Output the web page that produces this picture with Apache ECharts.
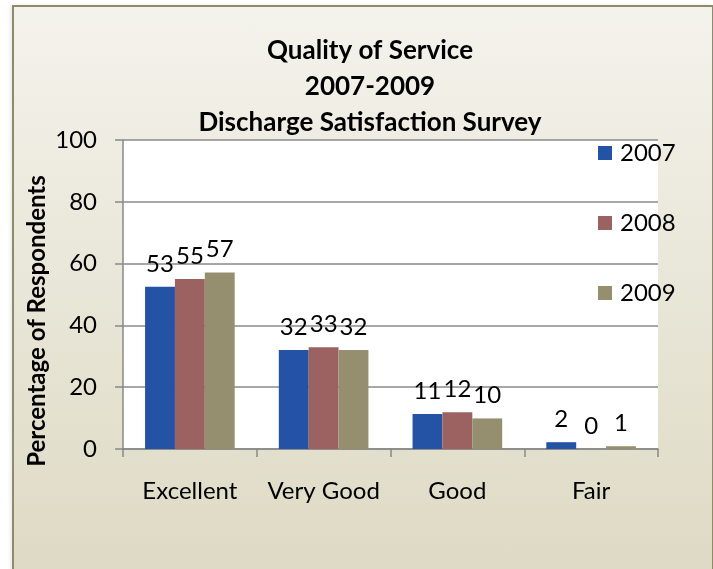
<!DOCTYPE html>
<html>
<head>
<meta charset="utf-8">
<script src="https://cdn.jsdelivr.net/npm/echarts@6/dist/echarts.min.js"></script>
<style>
  html, body { margin: 0; padding: 0; background: #fff; }
  #bg {
    position: absolute; left: 12px; top: 5px; width: 698px; height: 580px;
    border-left: 2px solid #8d8b6c; border-top: 2px solid #8d8b6c; border-right: 1px solid #8d8b6c;
    background: linear-gradient(to bottom, #f4f3ec 0%, #ddd9c3 100%);
    box-shadow: -2px 0 3px rgba(0,0,0,0.08);
  }
  #chart { position: absolute; left: 0; top: 0; width: 713px; height: 569px; }
</style>
</head>
<body>
<div id="bg"></div>
<div id="chart"></div>
<script>
'use strict';

// values
var categories = ['Excellent', 'Very Good', 'Good', 'Fair'];
var years = ['2007', '2008', '2009'];
var values2007 = [52.5, 32, 11.3, 2.2];
var values2008 = [55, 32.9, 11.9, 0];
var values2009 = [57.1, 32, 9.9, 0.9];
var yTicks = [0, 20, 40, 60, 80, 100];
var colors = ['#2452a5', '#9c6262', '#958f6f'];

var font = 'Lato';
var chart = echarts.init(document.getElementById('chart'), null, { renderer: 'canvas' });

function makeSeries(name, data, i) {
    return {
        name: name,
        type: 'bar',
        data: data,
        barGap: '0%',
        barCategoryGap: '33%',
        itemStyle: { color: colors[i] },
        label: {
            show: true,
            position: 'top',
            distance: 11,
            color: '#000',
            fontFamily: font,
            fontSize: 24,
            formatter: function (p) { return Math.round(p.value); }
        }
    };
}

var option = {
    animation: false,
    backgroundColor: 'transparent',
    title: {
        text: 'Quality of Service\n2007-2009\nDischarge Satisfaction Survey',
        left: 365,
        top: 28,
        textAlign: 'center',
        textStyle: {
            fontFamily: font,
            fontWeight: 'bold',
            fontSize: 26,
            lineHeight: 36,
            color: '#000'
        }
    },
    legend: {
        orient: 'vertical',
        left: 593,
        top: 136,
        itemWidth: 14,
        itemHeight: 14,
        itemGap: 46,
        icon: 'rect',
        data: years,
        textStyle: { fontFamily: font, fontSize: 24, color: '#000', padding: [0, 0, 0, 3] }
    },
    grid: { left: 123, top: 140, right: 55, bottom: 120, containLabel: false,
        show: true, backgroundColor: '#fff', borderWidth: 0 },
    xAxis: {
        type: 'category',
        data: categories,
        axisLine: { lineStyle: { color: '#888', width: 1.5 } },
        axisTick: { show: true, length: 8, alignWithLabel: false, lineStyle: { color: '#888', width: 1.5 } },
        axisLabel: { interval: 0, margin: 30, color: '#000', fontFamily: font, fontSize: 24 }
    },
    yAxis: {
        type: 'value',
        min: yTicks[0],
        max: yTicks[yTicks.length - 1],
        interval: 20,
        axisLine: { show: true, lineStyle: { color: '#888', width: 1.5 } },
        axisTick: { show: true, length: 8, lineStyle: { color: '#888', width: 1.5 } },
        splitLine: { lineStyle: { color: '#8a8a8a', width: 1.5 } },
        axisLabel: { margin: 26, color: '#000', fontFamily: font, fontSize: 24 }
    },
    graphic: [{
        type: 'text',
        x: 37,
        y: 321,
        rotation: Math.PI / 2,
        style: {
            text: 'Percentage of Respondents',
            fontFamily: font,
            fontWeight: 'bold',
            fontSize: 24,
            fill: '#000',
            textAlign: 'center',
            textVerticalAlign: 'middle'
        }
    }],
    series: [
        makeSeries(years[0], values2007, 0),
        makeSeries(years[1], values2008, 1),
        makeSeries(years[2], values2009, 2)
    ]
};

chart.setOption(option);
</script>
</body>
</html>
